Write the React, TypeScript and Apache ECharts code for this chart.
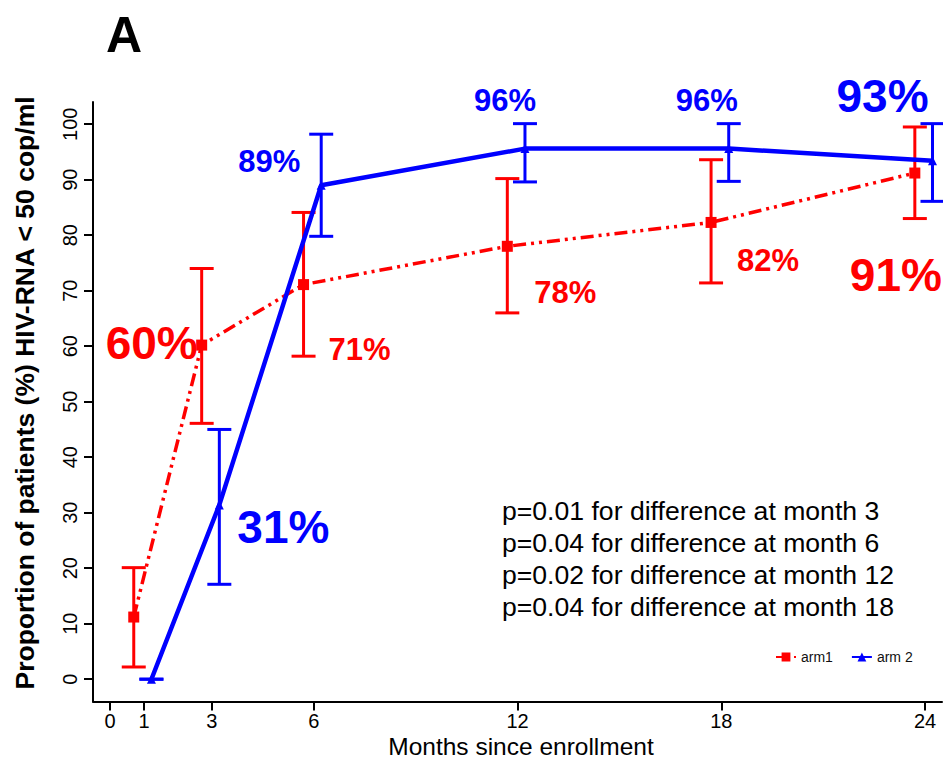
import React, { useEffect, useRef } from "react";
import * as echarts from "echarts";

// ---- data ----
const months = [1, 3, 6, 12, 18, 24];
const xTicks = [0, 1, 3, 6, 12, 18, 24];
const yTicks = [0, 10, 20, 30, 40, 50, 60, 70, 80, 90, 100];

const arm1Pct = [11.2, 60.2, 71.1, 78.0, 82.3, 91.2];
const arm1Low = [2.2, 46.1, 58.2, 66.0, 71.4, 83.0];
const arm1High = [20.1, 74.0, 84.1, 90.2, 93.6, 99.5];

const arm2Pct = [0, 31.4, 89.0, 95.6, 95.6, 93.4];
const arm2Low = [0, 17.1, 79.8, 89.6, 89.7, 86.1];
const arm2High = [0, 45.0, 98.2, 100.1, 100.1, 100.1];

const pValueLines = [
  "p=0.01 for difference at month 3",
  "p=0.04 for difference at month 6",
  "p=0.02 for difference at month 12",
  "p=0.04 for difference at month 18",
];

// ---- styles ----
const RED = "#ff0000";
const BLUE = "#0000ff";
const dodge1 = -0.3;
const dodge2 = 0.22;
// per-point label style: [dx, dy, fontSize] or null for no label
const arm1LabelStyle: (number[] | null)[] = [
  null,
  [-50, -2, 46],
  [56, 65, 31],
  [58, 46, 31],
  [57, 38, 31],
  [-19, 102, 46],
];
const arm2LabelStyle: (number[] | null)[] = [
  null,
  [64, 22, 46],
  [-52, -24, 31],
  [-20, -48, 31],
  [-22, -48, 31],
  [-50, -65, 46],
];

const FONT = "'Liberation Sans', Arial, Helvetica, sans-serif";

function errorBarSeries(name: string, color: string, dodge: number, lows: number[], highs: number[]) {
  return {
    type: "custom",
    name: name + "-err",
    data: months.map((m, i) => [m + dodge, lows[i], highs[i]]),
    encode: { x: 0, y: [1, 2] },
    z: 2,
    renderItem: (params: any, api: any) => {
      const x = api.value(0);
      const pLo = api.coord([x, api.value(1)]);
      const pHi = api.coord([x, api.value(2)]);
      const hw = 12;
      const st = { stroke: color, lineWidth: 3 };
      return {
        type: "group",
        children: [
          { type: "line", shape: { x1: pLo[0], y1: pLo[1], x2: pHi[0], y2: pHi[1] }, style: st },
          { type: "line", shape: { x1: pLo[0] - hw, y1: pLo[1], x2: pLo[0] + hw, y2: pLo[1] }, style: st },
          { type: "line", shape: { x1: pHi[0] - hw, y1: pHi[1], x2: pHi[0] + hw, y2: pHi[1] }, style: st },
        ],
      };
    },
  };
}

function labelSeries(color: string, dodge: number, vals: number[], styles: (number[] | null)[]) {
  const data: any[] = [];
  months.forEach((m, i) => {
    const s = styles[i];
    if (!s) return;
    data.push({
      value: [m + dodge, vals[i]],
      label: { offset: [s[0], s[1]], fontSize: s[2] },
    });
  });
  return {
    type: "scatter",
    symbolSize: 0,
    clip: false,
    silent: true,
    z: 5,
    data,
    itemStyle: { color, opacity: 1 },
    label: {
      show: true,
      position: "inside",
      align: "center",
      verticalAlign: "middle",
      color,
      opacity: 1,
      fontWeight: "bold",
      fontFamily: FONT,
      formatter: (p: any) => Math.round(p.value[1]) + "%",
    },
  };
}

export default function App() {
  const ref = useRef<HTMLDivElement>(null);
  useEffect(() => {
    if (!ref.current) return;
    const chart = echarts.init(ref.current, null, { renderer: "svg" });
    chart.setOption({
      animation: false,
      backgroundColor: "#ffffff",
      grid: { left: 93, right: 1, top: 102, bottom: 56.6 },
      legend: {
        data: ["arm1", "arm 2"],
        left: 770,
        top: 645,
        itemWidth: 20,
        itemHeight: 11,
        itemGap: 18,
        selectedMode: false,
        textStyle: { fontSize: 14, fontFamily: FONT, color: "#111" },
      },
      xAxis: {
        type: "value",
        min: -0.5,
        max: 24.5,
        splitLine: { show: false },
        axisLine: { onZero: false, lineStyle: { color: "#000", width: 2 } },
        axisTick: { customValues: xTicks, length: 9, lineStyle: { color: "#000", width: 2 } },
        axisLabel: { customValues: xTicks, margin: 10, fontSize: 20, color: "#000", fontFamily: FONT },
      },
      yAxis: {
        type: "value",
        min: -4,
        max: 104,
        splitLine: { show: false },
        axisLine: { onZero: false, lineStyle: { color: "#000", width: 2 } },
        axisTick: { customValues: yTicks, length: 9, lineStyle: { color: "#000", width: 2 } },
        axisLabel: { customValues: yTicks, rotate: 90, margin: 13, fontSize: 20, color: "#000", fontFamily: FONT },
      },
      graphic: [
        {
          type: "text",
          x: 124,
          y: 35,
          style: { text: "A", font: `bold 50px ${FONT}`, fill: "#000", align: "center", verticalAlign: "middle" },
        },
        {
          type: "text",
          x: 25,
          y: 393,
          rotation: Math.PI / 2,
          style: {
            text: "Proportion of patients (%) HIV-RNA < 50 cop/ml",
            font: `bold 26.5px ${FONT}`,
            fill: "#000",
            align: "center",
            verticalAlign: "middle",
          },
        },
        {
          type: "text",
          x: 521,
          y: 746,
          style: {
            text: "Months since enrollment",
            font: `24.5px ${FONT}`,
            fill: "#000",
            align: "center",
            verticalAlign: "middle",
          },
        },
        {
          type: "text",
          x: 502,
          y: 495,
          style: {
            text: pValueLines.join("\n"),
            font: `26.6px ${FONT}`,
            lineHeight: 32,
            fill: "#000",
            align: "left",
            verticalAlign: "top",
          },
        },
      ],
      series: [
        errorBarSeries("arm1", RED, dodge1, arm1Low, arm1High),
        errorBarSeries("arm 2", BLUE, dodge2, arm2Low, arm2High),
        {
          type: "line",
          name: "arm1",
          data: months.map((m, i) => [m + dodge1, arm1Pct[i]]),
          symbol: "rect",
          symbolSize: 11,
          itemStyle: { color: RED },
          lineStyle: { color: RED, width: 3.5, type: [13, 5, 3, 5, 3, 5] },
          z: 3,
        },
        {
          type: "line",
          name: "arm 2",
          data: months.map((m, i) => [m + dodge2, arm2Pct[i]]),
          symbol: "triangle",
          symbolSize: 9,
          itemStyle: { color: BLUE },
          lineStyle: { color: BLUE, width: 4.5 },
          z: 4,
        },
        labelSeries(RED, dodge1, arm1Pct, arm1LabelStyle),
        labelSeries(BLUE, dodge2, arm2Pct, arm2LabelStyle),
      ],
    });
    return () => chart.dispose();
  }, []);
  return <div ref={ref} style={{ position: "fixed", left: 0, top: 0, width: 943, height: 758 }} />;
}
